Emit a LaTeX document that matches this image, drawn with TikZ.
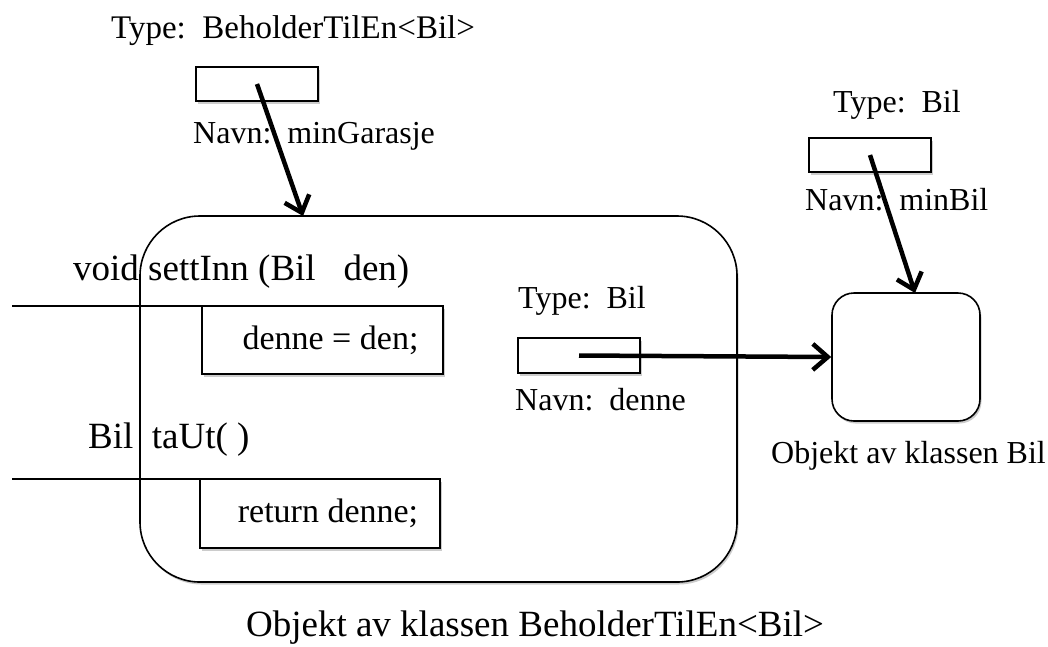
\documentclass[tikz,border=0pt]{standalone}
\usepackage{fontspec}
\setmainfont{Liberation Serif}
\usetikzlibrary{arrows.meta,positioning,shadows}
\tikzset{
  skygge/.style={drop shadow={shadow xshift=1.5pt, shadow yshift=-2.5pt, fill=black!20, opacity=1}},
  felt/.style={rectangle, draw=black, line width=1.6pt, fill=white, minimum width=122pt, minimum height=34pt, inner sep=0pt, skygge},
  kropp/.style={rectangle, draw=black, line width=1.6pt, fill=white, minimum width=241pt, minimum height=68pt, inner sep=0pt, font=\fontsize{34}{40}\selectfont, skygge},
  objekt/.style={rectangle, draw=black, line width=1.6pt, fill=white, inner sep=0pt, skygge},
  lbl/.style={anchor=base west, inner sep=0pt, font=\fontsize{32}{38}\selectfont},
  sig/.style={anchor=base west, inner sep=0pt, font=\fontsize{37}{44}\selectfont},
  metode/.style={draw, line width=1.6pt},
  ptr/.style={draw, line width=4.5pt, -{Straight Barb[length=15pt,width=26pt]}},
}
\begin{document}
\begin{tikzpicture}[x=1pt, y=-1pt]
  \useasboundingbox (0,0) rectangle (1048,646);
  % the container object
  \node[objekt, minimum width=597pt, minimum height=366pt, rounded corners=60pt] (beholder) at (438.5,399) {};
  \node[lbl, font=\fontsize{37}{44}\selectfont, anchor=base] (objBeh) at (535,636) {Objekt av klassen BeholderTilEn<Bil>};

  % methods
  \node[sig] (settInn) at (73,280) {void settInn (Bil\ \ \ den)};
  \node[sig] (taUt) at (88,448) {Bil\ \ taUt( )};
  \coordinate (m1a) at (12,306);
  \coordinate (m1b) at (256,306);
  \coordinate (m2a) at (12,479);
  \coordinate (m2b) at (275,479);
  \node[kropp] (settBody) at (322.5,340) {\hspace*{16pt}denne = den;};
  \node[kropp, minimum width=240pt, minimum height=69pt] (taBody) at (320,513.5) {\hspace*{16pt}return denne;};
  \path[metode] (m1a) -- (m1b) (m2a) -- (m2b);

  % field inside the container
  \node[lbl] (typeDenne) at (518,308) {Type:\ \ Bil};
  \node[felt, minimum height=35pt] (denneBox) at (579,355.5) {};
  \node[lbl] (navnDenne) at (515,410) {Navn:\ \ denne};

  % variable minGarasje
  \node[lbl, font=\fontsize{33}{38}\selectfont] (typeGar) at (111,38) {Type:\ \ BeholderTilEn<Bil>};
  \node[felt] (garBox) at (257,84) {};
  \node[lbl] (navnGar) at (193,143) {Navn:\ \ minGarasje};
  \coordinate (garIn) at (303,216);

  % the Bil object and minBil
  \node[objekt, minimum width=148pt, minimum height=128pt, rounded corners=22pt] (bilObj) at (906,357) {};
  \node[lbl] (objBil) at (771,463) {Objekt av klassen Bil};
  \node[lbl] (typeBil) at (833,112) {Type:\ \ Bil};
  \node[felt] (bilBox) at (870,155) {};
  \node[lbl] (navnBil) at (805,210) {Navn:\ \ minBil};
  \coordinate (bilIn) at (915,293);

  \path
    (garBox.center) edge[ptr] (garIn)
    (denneBox.center) edge[ptr] (bilObj.west)
    (bilBox.center) edge[ptr] (bilIn);
\end{tikzpicture}
\end{document}
